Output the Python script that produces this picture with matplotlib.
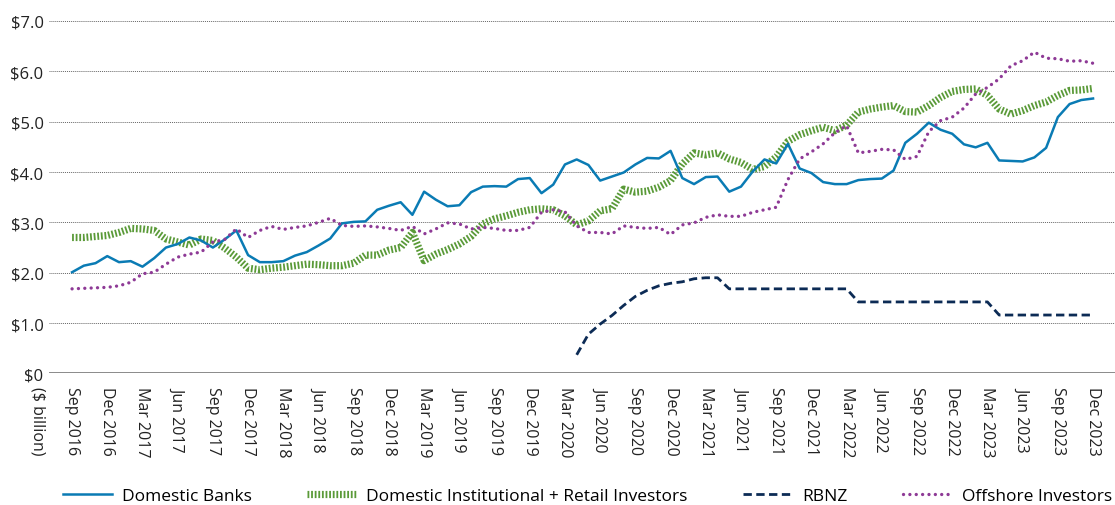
import numpy as np
import pandas as pd
import matplotlib
matplotlib.use("Agg")
import matplotlib.pyplot as plt

plt.rcParams['font.family'] = ['Open Sans', 'DejaVu Sans']

months = pd.date_range("2016-09-30", periods=88, freq="ME")

domestic_banks = [
    2.01, 2.14, 2.19, 2.33, 2.21, 2.23, 2.12, 2.29, 2.50, 2.57,
    2.70, 2.64, 2.50, 2.66, 2.84, 2.35, 2.21, 2.21, 2.23, 2.34,
    2.41, 2.54, 2.68, 2.98, 3.01, 3.02, 3.25, 3.33, 3.40, 3.15,
    3.61, 3.45, 3.32, 3.34, 3.60, 3.71, 3.72, 3.71, 3.86, 3.88,
    3.58, 3.75, 4.15, 4.25, 4.14, 3.83, 3.91, 3.99, 4.15, 4.28,
    4.27, 4.42, 3.88, 3.76, 3.90, 3.91, 3.61, 3.71, 4.01, 4.25,
    4.17, 4.56, 4.07, 3.98, 3.80, 3.76, 3.76, 3.84, 3.86, 3.87,
    4.03, 4.58, 4.76, 4.98, 4.84, 4.76, 4.55, 4.49, 4.58, 4.23,
    4.22, 4.21, 4.29, 4.48, 5.09, 5.35, 5.43, 5.46,
]

domestic_inst_retail = [
    2.70, 2.70, 2.72, 2.74, 2.80, 2.88, 2.87, 2.84, 2.67, 2.61,
    2.55, 2.67, 2.64, 2.49, 2.31, 2.09, 2.06, 2.09, 2.11, 2.14,
    2.17, 2.16, 2.14, 2.14, 2.19, 2.35, 2.35, 2.45, 2.50, 2.80,
    2.24, 2.37, 2.46, 2.57, 2.72, 2.97, 3.07, 3.13, 3.20, 3.25,
    3.27, 3.25, 3.13, 2.95, 3.03, 3.23, 3.27, 3.66, 3.60, 3.62,
    3.70, 3.83, 4.16, 4.38, 4.34, 4.38, 4.26, 4.19, 4.05, 4.11,
    4.30, 4.61, 4.74, 4.82, 4.89, 4.82, 4.93, 5.19, 5.25, 5.29,
    5.32, 5.20, 5.19, 5.32, 5.48, 5.60, 5.64, 5.65, 5.52, 5.25,
    5.15, 5.22, 5.32, 5.39, 5.52, 5.62, 5.63, 5.66,
]

# RBNZ only holds from Apr 2020 onwards
rbnz = [np.nan] * 43 + [
    0.37, 0.78, 0.98, 1.15, 1.35, 1.53, 1.65, 1.74, 1.79, 1.82,
    1.88, 1.90, 1.90,
    1.68, 1.68, 1.68, 1.68, 1.68, 1.68, 1.68, 1.68, 1.68, 1.68, 1.68,
    1.42, 1.42, 1.42, 1.42, 1.42, 1.42, 1.42, 1.42, 1.42, 1.42, 1.42, 1.42,
    1.16, 1.16, 1.16, 1.16, 1.16, 1.16, 1.16, 1.16, 1.16,
]

offshore = [
    1.68, 1.69, 1.70, 1.71, 1.74, 1.81, 1.98, 2.01, 2.17, 2.31,
    2.37, 2.41, 2.61, 2.66, 2.87, 2.70, 2.84, 2.92, 2.86, 2.90,
    2.93, 3.00, 3.08, 2.94, 2.92, 2.93, 2.91, 2.88, 2.84, 2.92,
    2.77, 2.87, 2.99, 2.97, 2.87, 2.90, 2.88, 2.84, 2.84, 2.90,
    3.20, 3.25, 3.21, 2.93, 2.80, 2.80, 2.77, 2.93, 2.90, 2.88,
    2.90, 2.76, 2.95, 2.99, 3.10, 3.15, 3.12, 3.12, 3.20, 3.25,
    3.30, 3.85, 4.26, 4.40, 4.56, 4.78, 4.92, 4.38, 4.41, 4.45,
    4.44, 4.25, 4.31, 4.80, 5.02, 5.09, 5.27, 5.55, 5.68, 5.85,
    6.11, 6.21, 6.38, 6.26, 6.25, 6.20, 6.21, 6.16,
]

y_ticks = [0, 1, 2, 3, 4, 5, 6, 7]
y_labels = ["$0", "$1.0", "$2.0", "$3.0", "$4.0", "$5.0", "$6.0", "$7.0"]

x = np.arange(len(months))
tick_pos = x[::3]
tick_labels = [d.strftime("%b %Y") for d in months[::3]]

fig = plt.figure(figsize=(11.15, 5.06), dpi=100)
ax = fig.add_axes([0.044, 0.26, 0.956, 0.6966])

ax.plot(x, domestic_banks, color="#0a7bb4", lw=1.8, label="Domestic Banks", zorder=4)
ax.plot(x, domestic_inst_retail, color="#5a9a38", lw=5.2, linestyle=(0, (0.25, 0.25)),
        label="Domestic Institutional + Retail Investors", zorder=3)
ax.plot(x, rbnz, color="#0c2b55", lw=2.0, linestyle=(0, (3, 1.6)), label="RBNZ", zorder=5)
ax.plot(x, offshore, color="#8e3a96", lw=2.4, linestyle=(0, (0.01, 1.9)),
        dash_capstyle="round", label="Offshore Investors", zorder=4)

ax.set_xlim(-1.96, 88.87)
ax.set_ylim(0, 7)
ax.set_yticks(y_ticks)
ax.set_yticklabels(y_labels, fontsize=12, color="#222222")
ax.set_xticks(tick_pos)
ax.set_xticklabels(tick_labels, rotation=270, fontsize=11.5, color="#222222", va="top", ha="center")
ax.tick_params(axis="both", length=0, pad=4)
ax.tick_params(axis="x", pad=9)

for v in y_ticks[1:]:
    ax.axhline(v, color="#666666", lw=0.7, linestyle=(0, (1, 1)), zorder=1)
ax.axhline(0, color="#808080", lw=2, zorder=2)

for s in ax.spines.values():
    s.set_visible(False)

fig.text(37 / 1115, 1 - 387 / 506, "($ billion)", rotation=270, fontsize=11.5,
         color="#222222", ha="center", va="top")

fig.legend(loc="center", bbox_to_anchor=(0.527, 0.018), ncol=4, frameon=False,
           fontsize=12.5, handlelength=2.8, columnspacing=3.2, handletextpad=0.6)

fig.savefig("out.png", dpi=100)
